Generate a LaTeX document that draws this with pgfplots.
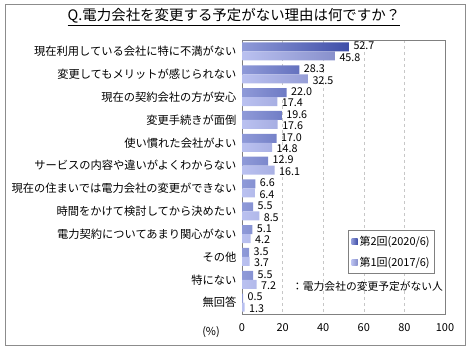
\documentclass[border=0pt]{standalone}
\usepackage{fontspec}
\setmainfont{Noto Sans CJK JP}
\usepackage{pgfplots}
\pgfplotsset{compat=1.18}
\usepackage{pgfplotstable}
\definecolor{dkL}{HTML}{8F9AD8}
\definecolor{dkR}{HTML}{3F4EA8}
\definecolor{ltL}{HTML}{BAC1F0}
\definecolor{ltR}{HTML}{8890CC}
\definecolor{dk}{HTML}{4F5DB5}
\definecolor{lt}{HTML}{A0A8E4}
\pgfplotstableread{
y v2 v1
0 52.7 45.8
1 28.3 32.5
2 22.0 17.4
3 19.6 17.6
4 17.0 14.8
5 12.9 16.1
6 6.6 6.4
7 5.5 8.5
8 5.1 4.2
9 3.5 3.7
10 5.5 7.2
11 0.5 1.3
}\data
\begin{document}
\begin{tikzpicture}[x=1bp,y=1bp]
\useasboundingbox (0,0) rectangle (470,350);
\draw[color=black!45, line width=1bp] (5,5) rectangle (465,345);
\node[font=\fontsize{14.5}{16}\selectfont, anchor=center] at (234,333) {\underline{Q.電力会社を変更する予定がない理由は何ですか？}};
\begin{axis}[
  at={(242bp,36bp)}, anchor=south west,
  scale only axis, width=203bp, height=274bp,
  xbar, bar width=9bp,
  xmin=0, xmax=100, ymin=-0.5, ymax=11.5,
  y dir=reverse,
  xtick={0,20,40,60,80,100},
  ytick={0,...,11},
  yticklabels={現在利用している会社に特に不満がない,変更してもメリットが感じられない,現在の契約会社の方が安心,変更手続きが面倒,使い慣れた会社がよい,サービスの内容や違いがよくわからない,現在の住まいでは電力会社の変更ができない,時間をかけて検討してから決めたい,電力契約についてあまり関心がない,その他,特にない,無回答},
  yticklabel style={font=\fontsize{11.3}{12}\selectfont, xshift=-2bp},
  xticklabel style={font=\fontsize{11}{13}\selectfont, yshift=-6bp},
  /pgf/number format/assume math mode=true,
  major tick length=0pt,
  axis line style={color=black!50},
  xmajorgrids, grid style={dashed, color=black!22},
  legend style={at={(rel axis cs:0.951,0.307)}, anchor=north east, draw=black!50, line width=0.8bp, font=\fontsize{11}{13}\selectfont, row sep=6bp, inner xsep=3bp, inner ysep=4bp, cells={anchor=west}},
  legend cell align=left,
  nodes near coords,
  nodes near coords style={font=\fontsize{10.8}{11}\selectfont, anchor=west, xshift=1bp, inner ysep=0pt, color=black},
  every node near coord/.append style={/pgf/number format/fixed, /pgf/number format/fixed zerofill, /pgf/number format/precision=1},
  clip=false,
]
\addplot[draw=none, left color=dkL, right color=dkR, bar shift=4.5bp,
  nodes near coords style={yshift=1bp},
  legend image code/.code={\fill[dk] (0bp,-3bp) rectangle (6bp,3bp);}]
  table[x=v2, y=y] {\data};
\addlegendentry{第2回(2020/6)}
\addplot[draw=none, left color=ltL, right color=ltR, bar shift=-4.5bp,
  nodes near coords style={yshift=-1.5bp},
  legend image code/.code={\fill[lt] (0bp,-3bp) rectangle (6bp,3bp);}]
  table[x=v1, y=y] {\data};
\addlegendentry{第1回(2017/6)}
\node[font=\fontsize{10.8}{12}\selectfont, anchor=west] at (axis cs:23,10.3) {：電力会社の変更予定がない人};
\end{axis}
\node[font=\fontsize{11}{13}\selectfont] at (211,18) {(\%)};
\end{tikzpicture}
\end{document}
